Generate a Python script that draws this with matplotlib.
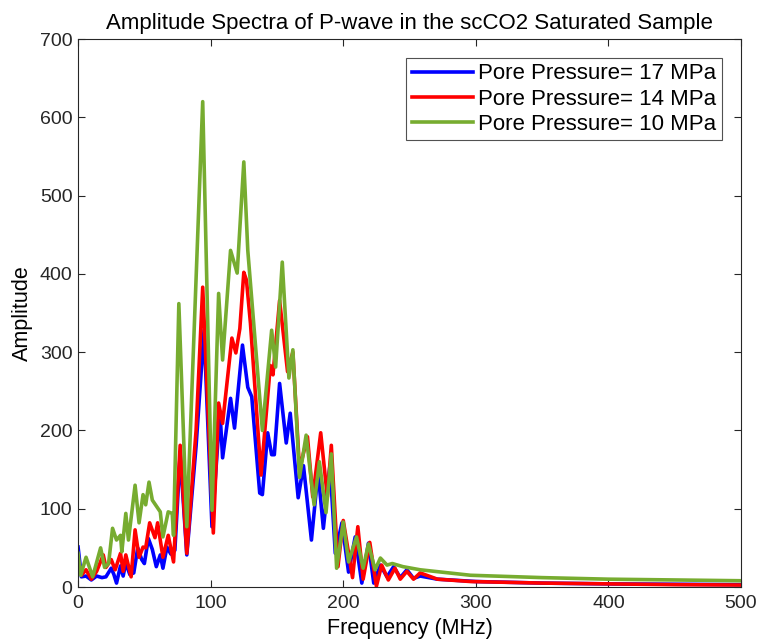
import matplotlib
matplotlib.use("Agg")
import matplotlib.pyplot as plt

plt.rcParams["font.family"] = ["Liberation Sans", "DejaVu Sans"]

# Pore pressure = 17 MPa (blue)
freq_17 = [0, 2.5, 6, 10, 14, 18, 21, 25, 27, 29, 32, 34, 36, 39, 42, 45, 48, 50,
           53, 56, 59, 62, 64, 67, 70, 73, 77, 82, 89, 95, 101, 107, 109, 115, 118,
           124, 128, 131, 137, 139, 143, 146, 148, 152, 157, 160, 166, 170, 176, 181,
           185, 190, 194, 199, 204, 209, 214, 219, 223, 228, 233, 238, 243, 248, 253,
           258, 271, 300, 350, 400, 450, 500]
amp_17 = [51, 13, 14, 9, 14, 12, 13, 24, 16, 5, 27, 14, 31, 16, 18, 50, 35, 30,
          62, 48, 26, 41, 24, 51, 42, 47, 170, 41, 180, 328, 77, 224, 165, 241, 203,
          309, 255, 243, 120, 118, 197, 169, 169, 260, 184, 222, 114, 155, 60, 147,
          75, 156, 43, 82, 19, 64, 5, 56, 5, 28, 13, 26, 12, 22, 11,
          14, 10, 7, 5, 4, 3.5, 3]

# Pore pressure = 14 MPa (red)
freq_14 = [0, 2.5, 6, 10, 14, 19, 21, 25, 28, 32, 34, 36, 40, 43, 46, 49, 51, 54,
           58, 60, 64, 68, 72, 77, 82, 89, 94, 102, 106, 109, 116, 119, 122, 125, 127,
           130, 138, 145, 147, 152, 158, 162, 167, 173, 177, 183, 188, 191, 196, 200,
           207, 211, 215, 220, 225, 229, 234, 239, 243, 248, 253, 258, 271, 296, 350,
           400, 450, 500]
amp_14 = [28, 15, 22, 10, 20, 41, 25, 35, 22, 43, 20, 41, 13, 73, 38, 51, 50, 82,
          63, 82, 38, 66, 32, 181, 43, 200, 383, 69, 235, 209, 318, 299, 330, 402, 392,
          337, 143, 283, 271, 366, 275, 300, 150, 192, 115, 197, 115, 181, 26, 85,
          12, 77, 10, 57, 1, 28, 9, 24, 10, 20, 10, 18, 10, 7, 5,
          4, 3, 2.5]

# Pore pressure = 10 MPa (green)
freq_10 = [0, 2, 6, 11, 17, 20, 23, 26, 29, 32, 33, 36, 38, 43, 46, 49, 51, 53.5,
           56, 62, 64, 68, 71, 72, 76, 82, 94, 101, 106, 109, 115, 120, 125, 128, 139,
           146, 149, 154, 159, 162, 167, 172, 178, 182, 187, 191, 195, 200, 204, 210,
           215, 219, 224, 228, 233, 237, 245, 258, 296, 350, 400, 450, 500]
amp_10 = [43, 15, 38, 13, 50, 25, 30, 75, 60, 66, 45, 94, 60, 130, 82, 118, 105, 134,
          111, 96, 64, 96, 94, 66, 362, 77, 620, 98, 375, 290, 430, 401, 543, 430, 200,
          328, 281, 415, 267, 303, 140, 194, 105, 160, 95, 170, 24, 83, 32, 64,
          24, 55, 22, 37, 28, 30, 26, 22, 15, 12, 10, 9, 8]

labels = ["Pore Pressure= 17 MPa", "Pore Pressure= 14 MPa", "Pore Pressure= 10 MPa"]
colors = ["#0000ff", "#ff0000", "#77ac30"]

fig = plt.figure(figsize=(7.58, 6.44), dpi=100)
ax = fig.add_axes([0.103, 0.0885, 0.8746, 0.8509])

for fx, ay, lab, col in zip([freq_17, freq_14, freq_10], [amp_17, amp_14, amp_10],
                            labels, colors):
    ax.plot(fx, ay, color=col, lw=2.6, label=lab, solid_joinstyle="round")

ax.set_xlim(0, 500)
ax.set_ylim(0, 700)
ax.set_xticks(range(0, 501, 100))
ax.set_yticks(range(0, 701, 100))
ax.tick_params(direction="in", top=True, right=True, length=5, width=0.8,
               labelsize=14, colors="#262626")
ax.tick_params(axis="x", pad=6)
ax.tick_params(axis="y", pad=4)
for sp in ax.spines.values():
    sp.set_color("#262626")
    sp.set_linewidth(0.8)

ax.set_title("Amplitude Spectra of P-wave in the scCO2 Saturated Sample",
             fontsize=16, pad=7)
ax.set_xlabel("Frequency (MHz)", fontsize=15.5, labelpad=4)
ax.set_ylabel("Amplitude", fontsize=15.5, labelpad=5)

leg = ax.legend(loc="upper right", fontsize=16, frameon=True, fancybox=False,
                edgecolor="#262626", handlelength=2.75, handletextpad=0.25,
                borderpad=0.25, labelspacing=0.19, borderaxespad=0.85)
leg.get_frame().set_linewidth(0.8)

fig.savefig("out.png", dpi=100)
